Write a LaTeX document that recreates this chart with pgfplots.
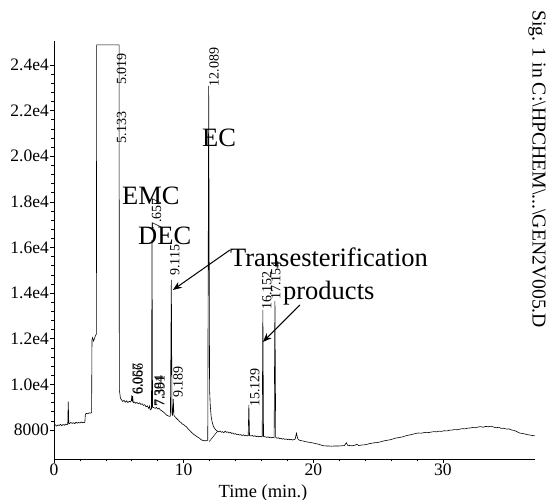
\documentclass[border=0pt]{standalone}
\usepackage{fontspec}
\setmainfont{Liberation Serif}
\usepackage{pgfplots}
\pgfplotsset{compat=1.18}
\usetikzlibrary{arrows.meta}
\pgfplotstableread{
t v
0.00 8190
0.10 8230
0.20 8170
0.30 8220
0.40 8200
0.50 8250
0.60 8190
0.70 8240
0.80 8210
0.90 8260
1.00 8230
1.06 8250
1.10 9240
1.14 8300
1.20 8280
1.30 8330
1.40 8290
1.50 8320
1.60 8280
1.70 8340
1.80 8300
1.90 8330
2.00 8310
2.10 8350
2.20 8320
2.30 8340
2.38 8330
2.42 8700
2.50 8730
2.60 8710
2.70 8750
2.80 8740
2.90 8760
2.93 11950
2.98 12050
3.05 11900
3.12 12000
3.20 12150
3.27 12200
3.29 24880
5.00 24880
5.02 24880
5.04 9750
5.08 9600
5.12 9400
5.20 9330
5.30 9250
5.40 9300
5.50 9220
5.60 9280
5.70 9200
5.80 9260
5.90 9230
5.97 9300
6.00 9520
6.04 9250
6.07 9480
6.11 9200
6.20 9230
6.30 9170
6.40 9210
6.50 9150
6.60 9190
6.70 9120
6.80 9150
6.90 9080
7.00 9110
7.10 9020
7.20 9060
7.30 8950
7.35 9000
7.38 9050
7.42 8880
7.48 8900
7.52 8950
7.56 16330
7.60 9000
7.70 8980
7.80 8950
7.90 8990
8.00 8920
8.10 8960
8.20 8880
8.30 8850
8.40 8800
8.50 8760
8.60 8700
8.70 8650
8.80 8620
8.90 8600
8.98 8610
9.05 14580
9.10 8700
9.15 8650
9.20 9350
9.25 8650
9.30 8600
9.40 8540
9.50 8480
9.60 8430
9.70 8360
9.80 8330
9.90 8260
10.00 8240
10.10 8180
10.20 8150
10.30 8080
10.40 8020
10.50 7960
10.60 7900
10.70 7850
10.80 7800
10.90 7760
11.00 7720
11.10 7680
11.20 7650
11.30 7600
11.40 7560
11.50 7540
11.60 7530
11.70 7530
11.80 7540
11.86 7560
11.93 23080
12.00 9800
12.05 9100
12.12 8600
12.20 8350
12.30 8150
12.45 8020
12.60 7950
12.70 7920
12.80 7960
12.90 7900
13.00 7930
13.10 7880
13.20 7950
13.30 7900
13.40 7920
13.50 7870
13.60 7900
13.70 7850
13.80 7870
13.90 7820
14.00 7840
14.10 7800
14.20 7820
14.30 7780
14.40 7800
14.50 7760
14.60 7790
14.70 7750
14.80 7770
14.90 7740
14.98 7760
15.03 9100
15.08 7760
15.20 7740
15.30 7760
15.40 7720
15.50 7750
15.60 7710
15.70 7730
15.80 7700
15.90 7720
16.00 7700
16.06 7720
16.11 13260
16.16 7720
16.30 7700
16.40 7680
16.50 7700
16.60 7670
16.70 7690
16.80 7660
16.90 7680
16.98 7670
17.04 13650
17.10 7680
17.20 7640
17.30 7660
17.40 7620
17.50 7640
17.60 7600
17.70 7620
17.80 7590
17.90 7610
18.00 7580
18.10 7600
18.20 7570
18.30 7590
18.40 7560
18.50 7580
18.60 7600
18.70 7860
18.80 7620
18.90 7560
19.00 7540
19.20 7520
19.40 7490
19.60 7470
19.80 7450
20.00 7430
20.20 7400
20.40 7380
20.60 7340
20.80 7310
21.00 7300
21.20 7300
21.40 7290
21.60 7300
21.80 7300
22.00 7300
22.20 7310
22.40 7320
22.55 7440
22.65 7330
22.80 7320
23.00 7310
23.20 7330
23.35 7380
23.50 7320
23.70 7340
23.90 7350
24.10 7360
24.30 7400
24.50 7420
24.70 7440
24.90 7450
25.10 7470
25.30 7500
25.50 7530
25.70 7550
25.90 7570
26.10 7600
26.30 7640
26.50 7660
26.70 7680
26.90 7700
27.10 7740
27.30 7770
27.50 7790
27.70 7820
27.90 7850
28.10 7870
28.30 7860
28.50 7880
28.70 7900
28.90 7890
29.10 7910
29.30 7930
29.50 7920
29.70 7950
29.90 7940
30.10 7970
30.30 7960
30.50 7990
30.70 8000
30.90 8020
31.10 8010
31.30 8040
31.50 8060
31.70 8050
31.90 8080
32.10 8090
32.30 8110
32.50 8100
32.70 8130
32.90 8150
33.10 8120
33.30 8160
33.50 8140
33.70 8170
33.90 8130
34.10 8100
34.30 8120
34.50 8070
34.70 8080
34.90 8040
35.10 8050
35.30 8000
35.50 7980
35.70 7930
35.90 7870
36.10 7850
36.30 7830
36.50 7800
36.70 7780
36.90 7760
37.10 7740
}\signal
\begin{document}
\begin{tikzpicture}
\path[use as bounding box] (-54pt,-41pt) rectangle (493pt,459pt);
\begin{axis}[
  at={(0pt,0pt)}, anchor=south west,
  scale only axis, width=481pt, height=418pt,
  xmin=0, xmax=37.1, ymin=6730, ymax=25050,
  axis x line*=bottom, axis y line*=left,
  axis line style={-, line width=0.8pt},
  tick align=outside,
  major tick length=4pt, minor tick length=2.5pt,
  every tick/.style={black, line width=0.6pt},
  xtick={0,10,20,30}, xticklabels={0,10,20,30},
  minor x tick num=4,
  scaled y ticks=false, scaled x ticks=false,
  ytick={8000,10000,12000,14000,16000,18000,20000,22000,24000},
  yticklabels={8000,1.0e4,1.2e4,1.4e4,1.6e4,1.8e4,2.0e4,2.2e4,2.4e4},
  minor y tick num=4,
  tick label style={font=\fontsize{17.5}{20}\selectfont},
  yticklabel style={inner sep=1pt},
  xticklabel style={inner sep=1pt},
  clip=false,
]
\addplot[black, line width=0.6pt] table[x=t, y=v] {\signal};
\addplot[black, line width=0.5pt] coordinates {(11.98,7500) (12.62,7950)};
\begin{scope}[every node/.style={inner sep=0pt, font=\fontsize{14}{14}\selectfont, rotate=90, anchor=west}]
\node at (axis cs:5.22,23125) {5.019};
\node at (axis cs:5.22,20570) {5.133};
\node at (axis cs:12.34,23050) {12.089};
\node at (axis cs:7.92,16770) {7.657};
\node at (axis cs:9.33,14750) {9.115};
\node at (axis cs:6.42,9530) {6.057};
\node at (axis cs:6.50,9530) {6.066};
\node at (axis cs:8.10,9010) {7.384};
\node at (axis cs:8.18,9010) {7.391};
\node at (axis cs:9.56,9400) {9.189};
\node at (axis cs:15.50,9010) {15.129};
\node at (axis cs:16.42,13260) {16.152};
\node at (axis cs:17.12,13700) {17.154};
\end{scope}
\begin{scope}[every node/.style={inner sep=0pt, font=\fontsize{26.5}{28}\selectfont, anchor=base west}]
\node at (axis cs:11.41,20407) {EC};
\node at (axis cs:5.24,17864) {EMC};
\node at (axis cs:6.48,16110) {DEC};
\node at (axis cs:13.57,15146) {Transesterification};
\node at (axis cs:17.66,13700) {products};
\end{scope}
\draw[line width=1pt, -{Stealth[length=9pt,width=7pt]}] (axis cs:13.57,15890) -- (axis cs:9.17,14138);
\draw[line width=1pt, -{Stealth[length=9pt,width=7pt]}] (axis cs:18.97,13480) -- (axis cs:16.11,11858);
\end{axis}
\node[inner sep=0pt, anchor=north, font=\fontsize{18.5}{20}\selectfont] at (209pt,-25pt) {Time (min.)};
\node[inner sep=0pt, rotate=-90, anchor=west, font=\fontsize{19.7}{20}\selectfont] at (483pt,449pt) {Sig. 1 in C:\textbackslash HPCHEM\textbackslash ...\textbackslash GEN2V005.D};
\end{tikzpicture}
\end{document}
